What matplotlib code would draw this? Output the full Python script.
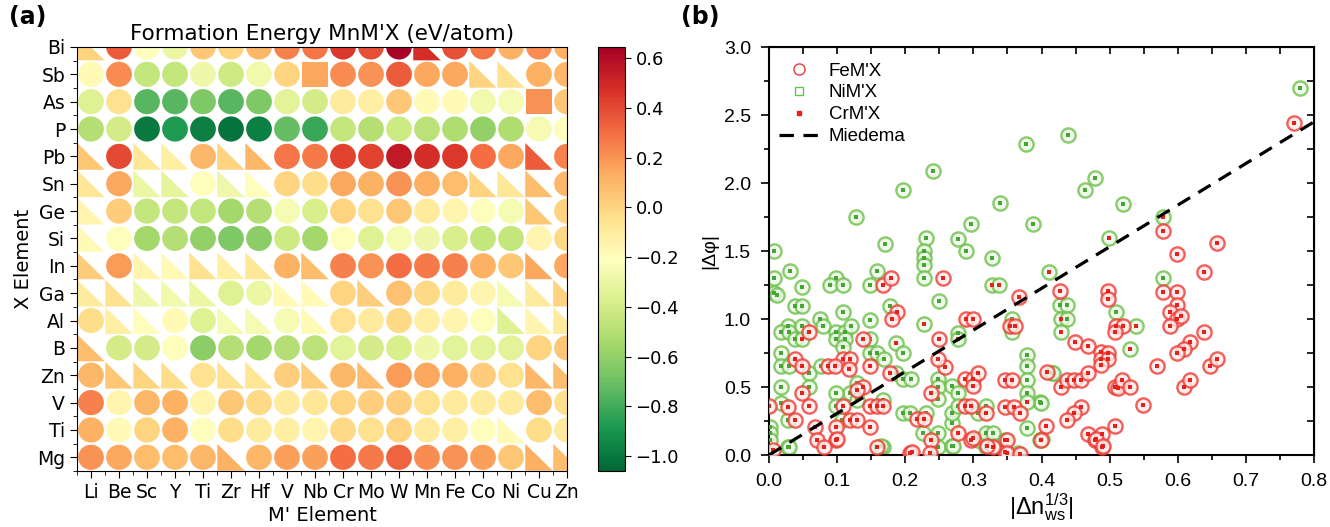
import numpy as np
import matplotlib
matplotlib.use("Agg")
import matplotlib.pyplot as plt
from matplotlib.patches import Circle, Polygon, Rectangle
from matplotlib.collections import PatchCollection
from matplotlib.lines import Line2D
from matplotlib.colors import Normalize

plt.rcParams['font.family'] = ['DejaVu Sans']
plt.rcParams['mathtext.fontset'] = 'custom'
plt.rcParams['mathtext.rm'] = 'Liberation Sans'
plt.rcParams['mathtext.it'] = 'Liberation Sans'
plt.rcParams['mathtext.default'] = 'rm'

# ---------------- panel (a) data ----------------
m_elements = ['Li', 'Be', 'Sc', 'Y', 'Ti', 'Zr', 'Hf', 'V', 'Nb', 'Cr', 'Mo', 'W',
              'Mn', 'Fe', 'Co', 'Ni', 'Cu', 'Zn']
x_elements = ['Bi', 'Sb', 'As', 'P', 'Pb', 'Sn', 'Ge', 'Si', 'In', 'Ga', 'Al', 'B',
              'Zn', 'V', 'Ti', 'Mg']   # top to bottom

# o = circle, t = triangle, s = square (one token per M' element)
shapes = [
    't o o o o o o o o o o o t o o o o o'.split(),   # Bi
    'o o o o o o o o s o o o o o t t o o'.split(),   # Sb
    'o o o o o o o o o o o o o o o o s o'.split(),   # As
    'o o o o o o o o o o o o o o o o o o'.split(),   # P
    't o t t o t t o o o o o o o o o t o'.split(),   # Pb
    't o t t o t t o o o o o o o t t t o'.split(),   # Sn
    't o o o o o o o o o o o o o o o t o'.split(),   # Ge
    't o o o o o o o o o o o o o o o o o'.split(),   # Si
    't o t t t t t o t o o o o o o o t o'.split(),   # In
    't t t t t o o t t o t o o o o t t t'.split(),   # Ga
    'o t t o o t t o t o o o o o o t t t'.split(),   # Al
    't o o o o o o o o o o o o o o o o o'.split(),   # B
    'o t t t o t t o t o t o o o o o t t'.split(),   # Zn
    'o o o o o o o o o o o o o o o o o o'.split(),   # V
    'o o o o o o o o o o o o o o o t o o'.split(),   # Ti
    'o o o o o t o o o o o o o o o o t t'.split(),   # Mg
]

energy = [
    [0.0, 0.35, -0.2, -0.3, 0.05, 0.0, 0.1, 0.25, 0.28, 0.45, 0.38, 0.63, 0.48, 0.38, 0.28, 0.12, 0.22, 0.12],
    [-0.18, 0.22, -0.45, -0.45, -0.28, -0.42, -0.27, 0.0, 0.15, 0.22, 0.2, 0.35, 0.15, 0.15, 0.0, -0.05, 0.12, 0.1],
    [-0.35, -0.05, -0.75, -0.75, -0.65, -0.75, -0.65, -0.33, -0.4, -0.1, -0.12, 0.05, -0.18, -0.18, -0.27, -0.25, 0.2, 0.05],
    [-0.5, -0.4, -1.0, -0.88, -0.98, -1.02, -0.98, -0.72, -0.82, -0.45, -0.5, -0.42, -0.48, -0.52, -0.6, -0.52, -0.25, -0.2],
    [0.05, 0.4, -0.08, -0.12, 0.1, 0.0, 0.1, 0.28, 0.27, 0.42, 0.42, 0.55, 0.48, 0.45, 0.3, 0.15, 0.35, 0.25],
    [-0.08, 0.15, -0.3, -0.32, -0.2, -0.28, -0.2, 0.0, -0.03, 0.15, 0.12, 0.2, 0.13, 0.08, 0.0, -0.08, 0.08, 0.1],
    [-0.15, 0.03, -0.45, -0.45, -0.45, -0.55, -0.5, -0.25, -0.38, 0.0, -0.05, 0.05, -0.1, -0.15, -0.2, -0.25, 0.05, 0.0],
    [-0.18, -0.2, -0.55, -0.5, -0.6, -0.65, -0.62, -0.42, -0.55, -0.2, -0.35, -0.25, -0.28, -0.38, -0.45, -0.45, -0.15, -0.02],
    [0.03, 0.18, -0.15, -0.18, -0.05, -0.12, -0.08, 0.12, 0.08, 0.25, 0.2, 0.3, 0.27, 0.25, 0.12, 0.05, 0.15, 0.15],
    [-0.1, -0.05, -0.28, -0.27, -0.3, -0.35, -0.3, -0.18, -0.18, 0.0, 0.02, 0.07, -0.02, -0.1, -0.15, -0.25, -0.1, 0.0],
    [-0.03, -0.12, -0.2, -0.18, -0.35, -0.25, -0.25, -0.25, -0.18, -0.05, -0.1, -0.02, -0.12, -0.15, -0.22, -0.35, -0.15, -0.1],
    [0.08, -0.4, -0.4, -0.2, -0.62, -0.5, -0.55, -0.5, -0.48, -0.33, -0.4, -0.38, -0.28, -0.33, -0.33, -0.33, 0.0, 0.05],
    [0.1, 0.05, 0.0, -0.03, -0.05, -0.05, -0.07, 0.02, 0.02, 0.1, 0.08, 0.18, 0.15, 0.12, 0.03, -0.05, 0.1, 0.08],
    [0.25, -0.15, 0.1, 0.12, -0.15, 0.05, -0.02, -0.1, -0.08, 0.0, 0.02, 0.02, -0.05, -0.1, -0.1, -0.1, 0.08, -0.05],
    [0.12, -0.18, 0.0, 0.12, -0.2, -0.03, -0.1, -0.12, -0.15, -0.02, -0.05, 0.0, -0.1, -0.12, -0.2, -0.18, -0.03, -0.1],
    [0.2, 0.15, 0.08, 0.08, 0.1, 0.12, 0.1, 0.17, 0.17, 0.3, 0.27, 0.33, 0.22, 0.2, 0.17, 0.05, 0.13, 0.08],
]

# ---------------- panel (b) data ----------------
fe_x = [0.770, 0.578, 0.658, 0.599, 0.639, 0.578, 0.599, 0.427, 0.497, 0.497,
        0.599, 0.589, 0.599, 0.604, 0.589, 0.639, 0.510, 0.519, 0.508, 0.354,
        0.361, 0.449, 0.468, 0.618, 0.609, 0.599, 0.488, 0.497, 0.488, 0.497,
        0.488, 0.569, 0.648, 0.658, 0.346, 0.357, 0.408, 0.428, 0.438, 0.448,
        0.458, 0.468, 0.508, 0.512, 0.518, 0.530, 0.609, 0.618, 0.346, 0.359,
        0.368, 0.458, 0.448, 0.438, 0.549, 0.407, 0.508, 0.468, 0.479, 0.489,
        0.489, 0.347, 0.168, 0.179, 0.256, 0.367, 0.188, 0.181, 0.289, 0.299,
        0.059, 0.138, 0.249, 0.038, 0.048, 0.109, 0.119, 0.087, 0.097, 0.148,
        0.178, 0.117, 0.138, 0.129, 0.048, 0.238, 0.288, 0.299, 0.299, 0.258,
        0.248, 0.307, 0.000, 0.028, 0.038, 0.058, 0.108, 0.119, 0.129, 0.148,
        0.158, 0.168, 0.068, 0.099, 0.099, 0.148, 0.071, 0.080, 0.158, 0.006,
        0.217, 0.227, 0.238, 0.288, 0.297, 0.278, 0.296, 0.319, 0.329, 0.349,
        0.349, 0.399, 0.207, 0.236, 0.100, 0.210, 0.300, 0.320, 0.368, 0.480,
        0.490]
fe_y = [2.44, 1.647, 1.556, 1.478, 1.348, 1.199, 1.199, 1.208, 1.204, 1.147,
        1.10, 1.05, 1.0, 1.025, 0.951, 0.902, 0.951, 0.951, 0.902, 0.951,
        0.951, 0.831, 0.804, 0.831, 0.782, 0.750, 0.760, 0.750, 0.703, 0.703,
        0.662, 0.652, 0.652, 0.703, 0.551, 0.551, 0.612, 0.502, 0.551, 0.551,
        0.551, 0.603, 0.502, 0.490, 0.551, 0.502, 0.502, 0.551, 0.355, 0.355,
        0.306, 0.355, 0.306, 0.257, 0.365, 0.216, 0.216, 0.157, 0.108, 0.157,
        0.057, 0.022, 1.248, 1.299, 1.299, 1.159, 1.049, 1.0, 1.0, 1.0,
        0.902, 0.851, 0.851, 0.703, 0.654, 0.703, 0.703, 0.654, 0.654, 0.654,
        0.605, 0.630, 0.502, 0.478, 0.458, 0.458, 0.556, 0.556, 0.507, 0.649,
        0.703, 0.605, 0.360, 0.355, 0.257, 0.360, 0.360, 0.257, 0.257, 0.360,
        0.360, 0.360, 0.208, 0.208, 0.110, 0.208, 0.110, 0.057, 0.061, 0.037,
        0.262, 0.262, 0.110, 0.360, 0.360, 0.159, 0.110, 0.306, 0.061, 0.110,
        0.017, 0.110, 0.017, 0.017, 0.120, 0.020, 0.127, 0.066, 0.010, 0.120,
        0.066]

ni_x = [0.779, 0.439, 0.377, 0.240, 0.197, 0.339, 0.464, 0.478, 0.519, 0.388,
        0.128, 0.297, 0.170, 0.230, 0.228, 0.228, 0.228, 0.278, 0.289, 0.328,
        0.007, 0.007, 0.007, 0.012, 0.031, 0.048, 0.098, 0.090, 0.108, 0.148,
        0.158, 0.228, 0.578, 0.427, 0.438, 0.428, 0.438, 0.510, 0.538, 0.357,
        0.357, 0.378, 0.378, 0.378, 0.416, 0.378, 0.398, 0.378, 0.398, 0.366,
        0.249, 0.038, 0.048, 0.178, 0.108, 0.075, 0.079, 0.148, 0.028, 0.017,
        0.030, 0.048, 0.098, 0.111, 0.120, 0.038, 0.048, 0.098, 0.111, 0.148,
        0.187, 0.196, 0.277, 0.017, 0.017, 0.030, 0.058, 0.108, 0.077, 0.148,
        0.158, 0.169, 0.187, 0.129, 0.119, 0.129, 0.098, 0.017, 0.058, 0.196,
        0.209, 0.248, 0.248, 0.248, 0.268, 0.277, 0.017, 0.028, 0.098, 0.107,
        0.168, 0.002, 0.002, 0.002, 0.028, 0.168, 0.197, 0.207, 0.230, 0.226,
        0.248, 0.248, 0.268, 0.268, 0.268, 0.278, 0.307, 0.319, 0.307, 0.319,
        0.329, 0.319, 0.399, 0.417, 0.030, 0.165, 0.270, 0.330, 0.400, 0.578,
        0.499, 0.411, 0.429, 0.530, 0.347, 0.228, 0.328, 0.338, 0.277, 0.378]
ni_y = [2.70, 2.35, 2.29, 2.09, 1.946, 1.85, 1.95, 2.04, 1.846, 1.70,
        1.748, 1.699, 1.549, 1.598, 1.50, 1.446, 1.397, 1.586, 1.50, 1.449,
        1.50, 1.299, 1.19, 1.18, 1.351, 1.238, 1.299, 1.248, 1.248, 1.248,
        1.351, 1.299, 1.299, 1.10, 1.10, 1.0, 1.0, 1.049, 0.951, 1.0,
        0.902, 0.733, 0.652, 0.551, 0.603, 0.454, 0.387, 0.196, 0.108, 0.012,
        1.132, 1.098, 1.098, 1.098, 1.049, 1.0, 0.951, 0.993, 0.951, 0.902,
        0.902, 0.951, 0.902, 0.902, 0.951, 0.851, 0.851, 0.851, 0.851, 0.851,
        0.826, 0.752, 0.90, 0.752, 0.654, 0.654, 0.605, 0.796, 0.654, 0.752,
        0.752, 0.703, 0.605, 0.527, 0.454, 0.404, 0.458, 0.502, 0.502, 0.556,
        0.556, 0.556, 0.502, 0.409, 0.507, 0.458, 0.385, 0.257, 0.360, 0.257,
        0.404, 0.208, 0.159, 0.110, 0.057, 0.061, 0.311, 0.311, 0.311, 0.164,
        0.159, 0.061, 0.066, 0.238, 0.311, 0.360, 0.311, 0.360, 0.110, 0.159,
        0.159, 0.061, 0.385, 0.605, 0.060, 0.066, 0.066, 0.066, 0.120, 1.748,
        1.598, 1.348, 0.902, 0.782, 0.108, 0.961, 1.248, 1.248, 0.851, 0.392]

cr_x = [0.578, 0.499, 0.411, 0.429, 0.530, 0.347, 0.228, 0.328, 0.338, 0.277,
        0.538, 0.428, 0.378, 0.048, 0.187]
cr_y = [1.748, 1.598, 1.348, 0.902, 0.782, 0.108, 0.961, 1.248, 1.248, 0.851,
        0.951, 1.0, 0.392, 0.851, 0.826]

miedema_x = [0.0, 0.8]
miedema_y = [0.0, 2.45]

# ---------------- figure ----------------
fig = plt.figure(figsize=(13.3, 5.27), dpi=100)

ax = fig.add_axes([0.0579, 0.1063, 0.3684, 0.8046])
cmap = plt.get_cmap('RdYlGn_r')
norm = Normalize(vmin=-1.06, vmax=0.645)

n_rows = len(x_elements)
patches = []
vals = []
for i, (row, shp) in enumerate(zip(energy, shapes)):
    y = n_rows - 1 - i
    for j, (v, s) in enumerate(zip(row, shp)):
        if s == 'o':
            p = Circle((j, y), 0.46)
        elif s == 's':
            p = Rectangle((j - 0.45, y - 0.45), 0.9, 0.9)
        else:
            p = Polygon([(j - 0.49, y - 0.49), (j + 0.49, y - 0.49), (j - 0.49, y + 0.49)])
        patches.append(p)
        vals.append(v)
pc = PatchCollection(patches, cmap=cmap, norm=norm, edgecolor='none')
pc.set_array(np.array(vals))
ax.add_collection(pc)
ax.set_xlim(-0.5, 17)
ax.set_ylim(-0.5, 15)
ax.set_xticks(range(len(m_elements)))
ax.set_xticklabels(m_elements, fontsize=13.5)
ax.set_yticks(range(n_rows))
ax.set_yticklabels(x_elements[::-1], fontsize=13.5)
ax.set_xticks(np.arange(-0.5, 17, 1), minor=True)
ax.set_yticks(np.arange(-0.5, 15, 1), minor=True)
ax.tick_params(which='major', length=5)
ax.tick_params(which='minor', length=3)
ax.set_xlabel("M' Element", fontsize=14, labelpad=3)
ax.set_ylabel("X Element", fontsize=14, labelpad=3)
ax.set_title("Formation Energy MnM'X (eV/atom)", fontsize=15.5, pad=5)

cax = fig.add_axes([0.4496, 0.1063, 0.0203, 0.8046])
cb = fig.colorbar(pc, cax=cax, ticks=[0.6, 0.4, 0.2, 0.0, -0.2, -0.4, -0.6, -0.8, -1.0])
cb.ax.tick_params(labelsize=13, length=4)

fig.text(0.007, 0.955, '(a)', fontsize=17, fontweight='bold')
fig.text(0.512, 0.955, '(b)', fontsize=17, fontweight='bold')

# ---------------- panel (b) ----------------
ax2 = fig.add_axes([0.5782, 0.1366, 0.4098, 0.7742])
ring_kw = dict(s=105, linewidths=1.7, alpha=0.8)
ax2.scatter(ni_x, ni_y, facecolor='#eef8e9', edgecolor='#6cc04a', zorder=2, **ring_kw)
ax2.scatter(ni_x, ni_y, s=10, marker='s', color='#45a535', linewidths=0, zorder=3)
ax2.scatter(fe_x, fe_y, facecolor='#fdeceb', edgecolor='#ee3a32', zorder=4, **ring_kw)
ax2.scatter(fe_x, fe_y, s=10, marker='s', color='#e8201c', linewidths=0, zorder=5)
ax2.scatter(cr_x, cr_y, s=10, marker='s', color='#e8201c', linewidths=0, zorder=6)
ax2.plot(miedema_x, miedema_y, color='black', lw=2.3, dashes=(4.5, 3), zorder=7)

ax2.set_xlim(0, 0.8)
ax2.set_ylim(0, 3.0)
ax2.set_xticks(np.arange(0, 0.81, 0.1))
ax2.set_xticks(np.arange(0, 0.81, 0.05), minor=True)
ax2.set_yticks(np.arange(0, 3.01, 0.5))
ax2.set_yticks(np.arange(0, 3.01, 0.25), minor=True)
ax2.tick_params(which='major', direction='out', length=6, width=1.2, labelsize=14, pad=7)
ax2.tick_params(which='minor', direction='out', length=3.5, width=1.2)
for lab in ax2.get_xticklabels() + ax2.get_yticklabels():
    lab.set_fontfamily('Liberation Sans')
for sp in ax2.spines.values():
    sp.set_linewidth(1.5)

top = ax2.secondary_xaxis('top')
top.set_xticks(np.arange(0, 0.81, 0.05))
top.tick_params(direction='in', length=5, width=1.2, labeltop=False)
right = ax2.secondary_yaxis('right')
right.set_yticks(np.arange(0, 3.01, 0.25))
right.tick_params(direction='in', length=5, width=1.2, labelright=False)

ax2.set_ylabel('|Δφ|', fontsize=14, fontfamily='Liberation Sans', labelpad=4)
ax2.set_xlabel(r'$|\Delta n_{ws}^{1/3}|$', fontsize=17, labelpad=1)

handles = [Line2D([], [], ls='none', marker='o', ms=8, mfc='none', mec='#ee3a32', mew=1.0),
           Line2D([], [], ls='none', marker='s', ms=5.5, mfc='none', mec='#6cc04a', mew=1.0),
           Line2D([], [], ls='none', marker='s', ms=2.5, mfc='#e8201c', mec='#e8201c'),
           Line2D([], [], color='black', lw=2.3, dashes=(4.5, 3))]
leg = ax2.legend(handles, ["FeM'X", "NiM'X", "CrM'X", 'Miedema'], loc='upper left',
                 bbox_to_anchor=(0.018, 0.962), frameon=False,
                 prop={'family': 'Liberation Sans', 'size': 13.5},
                 handlelength=2.2, handletextpad=0.45, labelspacing=0.25,
                 borderaxespad=0, borderpad=0)

fig.savefig('out.png', dpi=100)
